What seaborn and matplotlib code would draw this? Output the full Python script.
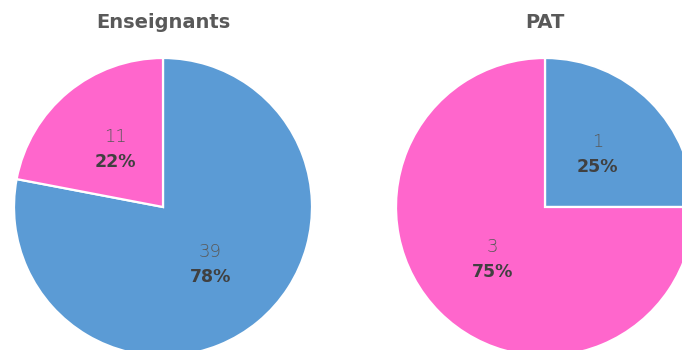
import numpy as np
import matplotlib
matplotlib.use("Agg")
import matplotlib.pyplot as plt
import seaborn as sns

sns.set_theme(style="white")
plt.rcParams['font.family'] = ['DejaVu Sans']

titles = ["Enseignants", "PAT"]
categories = ["Bleu", "Rose"]
enseignants_values = [39, 11]
pat_values = [1, 3]
colors = ["#5B9BD5", "#FF66CC"]

W, H = 682, 350
fig = plt.figure(figsize=(W / 100, H / 100), dpi=100)

R = 149
centers = [(163, 207), (545, 207)]
series = [enseignants_values, pat_values]

for (cx, cy), vals, title in zip(centers, series, titles):
    left = (cx - R) / W
    bottom = (H - cy - R) / H
    ax = fig.add_axes([left, bottom, 2 * R / W, 2 * R / H])
    wedges, _ = ax.pie(vals, colors=colors, startangle=90, counterclock=False,
                       wedgeprops=dict(edgecolor="white", linewidth=1.6))
    total = sum(vals)
    for w, v in zip(wedges, vals):
        ang = np.deg2rad((w.theta1 + w.theta2) / 2)
        x, y = 0.5 * np.cos(ang), 0.5 * np.sin(ang)
        ax.text(x, y + 0.085, f"{v}", ha="center", va="center",
                fontsize=13, color="#595959", fontweight="light")
        ax.text(x, y - 0.085, f"{round(100 * v / total)}%", ha="center", va="center",
                fontsize=12.5, color="#404040", fontweight="bold")
    ax.set_xlim(-1, 1)
    ax.set_ylim(-1, 1)
    ax.set_aspect("equal")
    ax.axis("off")
    fig.text(cx / W, 1 - 22 / H, title, ha="center", va="center",
             fontsize=14, fontweight="bold", color="#595959")

fig.savefig("out.png", dpi=100)
